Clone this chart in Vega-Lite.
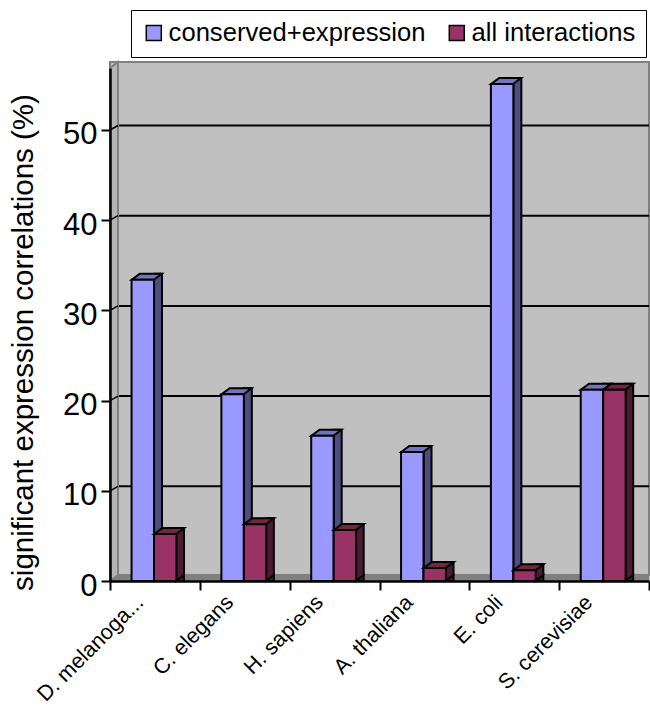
{
"$schema":"https://vega.github.io/schema/vega-lite/v6.json",
"width":539,"height":513,
"autosize":"none",
"padding":{"left":110,"top":68,"right":1,"bottom":130},
"background":"white",
"config":{"font":"Liberation Sans","view":{"fill":"#b4b4b4","stroke":null}},
"datasets":{
 "bars":[
 {"species":"D. melanoga...","series":"conserved+expression","value":33.4},
 {"species":"D. melanoga...","series":"all interactions","value":5.2},
 {"species":"C. elegans","series":"conserved+expression","value":20.7},
 {"species":"C. elegans","series":"all interactions","value":6.3},
 {"species":"H. sapiens","series":"conserved+expression","value":16.1},
 {"species":"H. sapiens","series":"all interactions","value":5.65},
 {"species":"A. thaliana","series":"conserved+expression","value":14.3},
 {"species":"A. thaliana","series":"all interactions","value":1.45},
 {"species":"E. coli","series":"conserved+expression","value":55.1},
 {"species":"E. coli","series":"all interactions","value":1.2},
 {"species":"S. cerevisiae","series":"conserved+expression","value":21.2},
 {"species":"S. cerevisiae","series":"all interactions","value":21.2}
 ],
 "wall":[{"low":0,"high":56.87}],
 "floor":[{"low":0,"high":0.66}],
 "grid":[{"v":10},{"v":20},{"v":30},{"v":40},{"v":50}],
 "edge":[{"v":10},{"v":20},{"v":30},{"v":40},{"v":50}]
},
"layer":[
 {"data":{"name":"wall"},"mark":{"type":"rect","fill":"#c0c0c0","stroke":"#808080","strokeWidth":2,"yOffset":-6,"y2Offset":-6},
  "encoding":{"y":{"field":"high","type":"quantitative","scale":{"domain":[0,56.87],"nice":false},"title":"significant expression correlations (%)",
    "axis":{"title":"significant expression correlations (%)","titleFontSize":29.5,"titleFontWeight":"normal","titleColor":"black","titleX":-72,"titleY":274,"values":[0,10,20,30,40,50],"labelFontSize":31,"labelColor":"black","labelPadding":4,"labelOffset":5,"tickSize":9,"tickWidth":2,"tickColor":"black","domainColor":"black","domainWidth":2.5,"grid":false,"zindex":1}},"y2":{"field":"low"}}},
 {"data":{"name":"floor"},"mark":{"type":"rect","fill":"#808080","stroke":"#808080"},
  "encoding":{"y":{"field":"high","type":"quantitative","title":"significant expression correlations (%)"},"y2":{"field":"low"}}},
 {"data":{"name":"grid"},"mark":{"type":"rule","color":"black","strokeWidth":2,"yOffset":-4.5},
  "encoding":{"y":{"field":"v","type":"quantitative","title":"significant expression correlations (%)"}}},
 {"data":{"name":"wall"},"mark":{"type":"point","filled":true,"size":4,"fill":"#b4b4b4","stroke":"#808080","strokeWidth":2,"opacity":1,"shape":"M0 0 L8 -6 L8 -519 L0 -513 Z"},
  "encoding":{"y":{"field":"low","type":"quantitative","title":"significant expression correlations (%)"},"x":{"datum":"D. melanoga...","bandPosition":0,"type":"nominal",
    "title":null,"scale":{"domain":["D. melanoga...","C. elegans","H. sapiens","A. thaliana","E. coli","S. cerevisiae"],"paddingInner":0,"paddingOuter":0},
    "axis":{"title":null,"labelAngle":-45,"labelAlign":"right","labelBaseline":"middle","labelFontSize":21.5,"labelColor":"black","labelPadding":9,"labelOffset":-15,"labelLimit":300,"tickBand":"extent","tickSize":9,"tickWidth":2,"tickColor":"black","domainColor":"black","domainWidth":2.5,"labelOverlap":false,"zindex":1}}}},
 {"data":{"name":"edge"},"mark":{"type":"point","filled":false,"size":4,"stroke":"black","strokeWidth":1.5,"opacity":1,"shape":"M0 0 L8 -4.5"},
  "encoding":{"y":{"field":"v","type":"quantitative","title":"significant expression correlations (%)"},"x":{"datum":"D. melanoga...","bandPosition":0,"type":"nominal","title":null}}},
 {"data":{"name":"bars"},
  "encoding":{
   "x":{"field":"species","type":"nominal","sort":null,"title":null},
   "y":{"field":"value","type":"quantitative","stack":false,"title":"significant expression correlations (%)"}
  },
  "layer":[
   {"transform":[{"filter":"datum.series === 'conserved+expression'"}],"mark":{"type":"bar","width":8,"xOffset":3.1,"yOffset":-6,"y2Offset":-6,"fill":"#4d4d80","stroke":"black","strokeWidth":2}},
   {"transform":[{"filter":"datum.series === 'conserved+expression'"}],"mark":{"type":"point","filled":true,"size":4,"fill":"#4d4d80","stroke":"black","strokeWidth":2,"opacity":1,"shape":"M7.1 -8 L7.1 -6 L-0.9 0 L-0.9 -8"},"encoding":{"y":{"datum":0,"type":"quantitative"}}},
   {"transform":[{"filter":"datum.series === 'conserved+expression'"}],"mark":{"type":"point","filled":true,"size":4,"fill":"#7373bf","stroke":"black","strokeWidth":2,"opacity":1,"shape":"M-11 0 L11 0 L19 -6 L-3 -6 Z"},
    "encoding":{"xOffset":{"field":"series","type":"nominal","sort":null,"scale":{"domain":["conserved+expression","all interactions"],"paddingInner":0,"paddingOuter":1.04,"align":0.48}}}},
   {"transform":[{"filter":"datum.series === 'conserved+expression'"}],"mark":{"type":"bar","stroke":"black","strokeWidth":2},
    "encoding":{"xOffset":{"field":"series","type":"nominal","sort":null},
     "color":{"field":"series","type":"nominal","sort":null,"scale":{"domain":["conserved+expression","all interactions"],"range":["#9999ff","#993366"]},
      "legend":{"orient":"none","legendX":21,"legendY":-58,"direction":"horizontal","columns":2,"title":null,"fillColor":"white","strokeColor":"black","padding":10,"labelFontSize":25.6,"labelColor":"black","labelLimit":400,"symbolType":"square","symbolSize":225,"symbolStrokeColor":"black","symbolStrokeWidth":1.5,"symbolOpacity":1,"columnPadding":18,"labelOffset":2}}}},
   {"transform":[{"filter":"datum.series === 'all interactions'"}],"mark":{"type":"bar","width":8,"xOffset":25.1,"yOffset":-6,"y2Offset":-6,"fill":"#4d1a33","stroke":"black","strokeWidth":2}},
   {"transform":[{"filter":"datum.series === 'all interactions'"}],"mark":{"type":"point","filled":true,"size":4,"fill":"#4d1a33","stroke":"black","strokeWidth":2,"opacity":1,"shape":"M29.1 -8 L29.1 -6 L21.1 0 L21.1 -8"},"encoding":{"y":{"datum":0,"type":"quantitative"}}},
   {"transform":[{"filter":"datum.series === 'all interactions'"}],"mark":{"type":"point","filled":true,"size":4,"fill":"#732640","stroke":"black","strokeWidth":2,"opacity":1,"shape":"M-11 0 L11 0 L19 -6 L-3 -6 Z"},
    "encoding":{"xOffset":{"field":"series","type":"nominal","sort":null}}},
   {"transform":[{"filter":"datum.series === 'all interactions'"}],"mark":{"type":"bar","stroke":"black","strokeWidth":2},
    "encoding":{"xOffset":{"field":"series","type":"nominal","sort":null},
     "color":{"field":"series","type":"nominal","sort":null,"scale":{"domain":["conserved+expression","all interactions"],"range":["#9999ff","#993366"]}}}}
  ]}
]
}
